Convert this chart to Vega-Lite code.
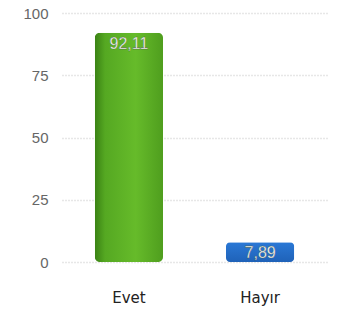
{
  "$schema": "https://vega.github.io/schema/vega-lite/v6.json",
  "autosize": "none",
  "width": 265,
  "height": 249,
  "padding": {"left": 62, "top": 13, "right": 10, "bottom": 51},
  "background": "white",
  "config": {
    "locale": {"number": {"decimal": ",", "thousands": ".", "grouping": [3], "currency": ["", " TL"]}},
    "view": {"stroke": null},
    "font": "Liberation Sans"
  },
  "data": {"values": [
    {"cevap": "Evet", "yuzde": 92.11},
    {"cevap": "Hayır", "yuzde": 7.89}
  ]},
  "encoding": {
    "x": {"field": "cevap", "type": "nominal", "sort": null,
      "scale": {"paddingInner": 0.48, "paddingOuter": 0.25},
      "axis": {"title": null, "labelAngle": 0, "domain": false, "ticks": false, "labelPadding": 28, "labelFontSize": 15, "labelColor": "#222", "labelFont": "DejaVu Sans"}},
    "y": {"field": "yuzde", "type": "quantitative",
      "scale": {"domain": [0, 100]},
      "axis": {"title": null, "values": [0, 25, 50, 75, 100], "domain": false, "ticks": false, "labelPadding": 14, "labelFontSize": 15, "labelColor": "#666", "gridColor": "#d0d0d0", "gridDash": [1, 2], "gridWidth": 1.5}}
  },
  "layer": [
    {
      "transform": [{"filter": "datum.cevap === 'Evet'"}],
      "mark": {"type": "bar", "cornerRadius": 5,
        "color": {"gradient": "linear", "x1": 0, "x2": 1, "y1": 0, "y2": 0,
          "stops": [{"offset": 0, "color": "#3a8214"}, {"offset": 0.15, "color": "#55a822"}, {"offset": 0.6, "color": "#66bb2a"}, {"offset": 1, "color": "#4f9e1e"}]}}
    },
    {
      "transform": [{"filter": "datum.cevap === 'Hayır'"}],
      "mark": {"type": "bar", "cornerRadius": 4,
        "color": {"gradient": "linear", "x1": 0, "x2": 0, "y1": 0, "y2": 1,
          "stops": [{"offset": 0, "color": "#2a78d6"}, {"offset": 1, "color": "#1f62b8"}]}}
    },
    {
      "mark": {"type": "text", "baseline": "top", "dy": 3, "fontSize": 16, "color": "white", "stroke": "#4a5a40", "strokeWidth": 0.3},
      "encoding": {
        "text": {"field": "yuzde", "type": "quantitative", "format": ".2f"}
      }
    }
  ]
}
